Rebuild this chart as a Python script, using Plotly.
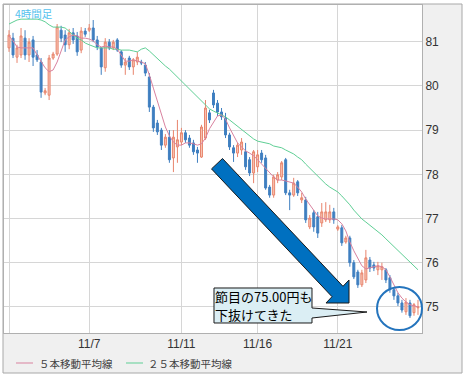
import plotly.graph_objects as go

# ---- data (4-hour candles) ----
open_ = [80.86, 81.08, 80.65, 80.70, 81.08, 80.70, 81.04, 80.70, 80.54, 79.84,
         79.79, 80.63, 80.72, 81.26, 81.15, 80.93, 81.20, 81.13, 80.81, 81.24,
         81.26, 81.31, 81.04, 80.86, 80.41, 80.99, 80.86, 81.04, 80.77, 80.47,
         80.63, 80.43, 80.54, 80.54, 80.47, 80.20, 79.52, 79.16, 79.00, 78.66,
         78.84, 78.37, 78.62, 78.73, 78.94, 78.82, 78.71, 78.55, 78.39, 78.82,
         79.39, 79.84, 79.61, 79.41, 79.27, 78.89, 78.60, 78.48, 78.55, 78.51,
         78.33, 78.03, 78.17, 78.48, 78.37, 77.71, 77.53, 77.87, 77.94, 78.33,
         77.58, 77.53, 77.83, 77.42, 77.42, 76.81, 77.13, 77.04, 76.90, 76.97,
         76.97, 77.15, 76.76, 76.79, 76.47, 76.56, 76.00, 75.79, 75.50, 75.61,
         76.06, 75.95, 75.84, 75.84, 75.84, 75.66, 75.39, 75.25, 75.09, 74.89,
         75.09, 74.87, 74.98]
high = [81.26, 81.20, 80.93, 81.31, 81.26, 81.08, 81.13, 80.81, 80.63, 79.95,
        80.70, 80.77, 81.40, 81.36, 81.26, 81.29, 81.31, 81.22, 81.33, 81.31,
        81.40, 81.49, 81.13, 80.88, 81.08, 81.06, 81.04, 81.08, 80.81, 80.63,
        80.68, 80.63, 80.77, 80.59, 80.54, 80.29, 79.57, 79.23, 79.05, 78.91,
        79.00, 79.00, 79.23, 79.05, 79.00, 78.89, 78.78, 78.62, 79.12, 79.68,
        79.46, 79.91, 79.68, 79.50, 79.39, 78.94, 78.66, 78.71, 78.82, 78.71,
        78.39, 78.55, 78.55, 78.55, 78.44, 77.76, 77.99, 78.05, 78.30, 78.37,
        77.65, 77.92, 77.87, 77.58, 77.49, 77.08, 77.19, 77.15, 77.35, 77.37,
        77.31, 77.24, 76.85, 76.85, 76.61, 76.61, 76.06, 75.84, 75.84, 76.29,
        76.13, 76.02, 76.02, 76.00, 75.88, 75.72, 75.45, 75.32, 75.16, 75.20,
        75.16, 75.09, 75.16]
low = [80.77, 80.63, 80.52, 80.63, 80.59, 80.54, 80.45, 80.54, 79.73, 79.79,
       79.68, 80.59, 80.68, 80.99, 80.77, 80.83, 80.95, 80.68, 80.74, 81.11,
       81.22, 80.99, 80.81, 80.25, 80.32, 80.81, 80.81, 80.77, 80.41, 80.25,
       80.36, 80.25, 80.47, 80.47, 80.22, 79.41, 78.96, 78.89, 78.55, 78.60,
       78.26, 78.05, 78.26, 78.66, 78.71, 78.60, 78.44, 78.26, 78.37, 78.78,
       79.16, 79.50, 79.32, 79.23, 78.82, 78.55, 78.28, 78.39, 78.44, 78.10,
       77.96, 77.80, 78.05, 78.26, 77.65, 77.47, 77.47, 77.80, 77.87, 77.53,
       77.19, 77.49, 77.51, 77.35, 76.90, 76.76, 76.70, 76.56, 76.81, 76.92,
       76.90, 76.88, 76.72, 76.38, 76.43, 75.91, 75.63, 75.43, 75.45, 75.54,
       75.79, 75.81, 75.72, 75.61, 75.54, 75.32, 75.16, 75.02, 74.87, 74.82,
       74.75, 74.80, 74.82]
close = [81.15, 80.70, 80.86, 81.13, 80.70, 80.99, 80.65, 80.59, 79.86, 79.89,
         80.63, 80.72, 81.33, 81.08, 80.93, 81.20, 81.04, 80.77, 81.24, 81.17,
         81.31, 81.04, 80.88, 80.43, 80.99, 80.86, 80.99, 80.81, 80.47, 80.54,
         80.43, 80.59, 80.65, 80.52, 80.29, 79.52, 79.05, 78.96, 78.66, 78.84,
         78.33, 78.84, 78.78, 78.94, 78.78, 78.66, 78.51, 78.48, 79.07, 79.50,
         79.23, 79.57, 79.41, 79.30, 78.89, 78.62, 78.48, 78.66, 78.73, 78.17,
         78.03, 78.51, 78.44, 78.33, 77.69, 77.53, 77.94, 77.99, 78.26, 77.58,
         77.53, 77.80, 77.58, 77.47, 76.97, 77.01, 76.81, 76.67, 77.15, 77.15,
         77.15, 76.97, 76.81, 76.45, 76.56, 76.00, 75.68, 75.50, 75.77, 76.11,
         75.88, 75.88, 75.93, 75.91, 75.61, 75.39, 75.25, 75.09, 74.93, 75.11,
         74.80, 75.05, 75.00]
ma5 = [81.13, 81.02, 80.88, 80.86, 80.86, 80.86, 80.86, 80.70, 80.56, 80.41,
       80.32, 80.36, 80.54, 80.77, 81.04, 81.11, 81.15, 81.13, 81.08, 81.08,
       81.06, 81.02, 80.93, 80.88, 80.90, 80.88, 80.88, 80.83, 80.70, 80.56,
       80.56, 80.59, 80.56, 80.54, 80.50, 80.25, 79.95, 79.66, 79.34, 79.07,
       78.87, 78.73, 78.66, 78.66, 78.71, 78.71, 78.69, 78.66, 78.69, 78.82,
       79.03, 79.18, 79.32, 79.34, 79.25, 79.05, 78.87, 78.71, 78.62, 78.53,
       78.48, 78.42, 78.33, 78.23, 78.14, 78.03, 77.94, 77.87, 77.87, 77.85,
       77.83, 77.80, 77.71, 77.60, 77.44, 77.31, 77.17, 77.06, 77.01, 76.99,
       76.99, 76.99, 76.97, 76.88, 76.72, 76.47, 76.27, 76.09, 75.93, 75.86,
       75.88, 75.91, 75.93, 75.91, 75.84, 75.68, 75.48, 75.32, 75.20, 75.11,
       75.05, 75.02, 75.00]
ma25 = [81.40, 81.45, 81.49, 81.51, 81.51, 81.51, 81.51, 81.51, 81.49, 81.45,
        81.38, 81.33, 81.33, 81.33, 81.31, 81.24, 81.17, 81.08, 81.04, 80.97,
        80.93, 80.90, 80.86, 80.86, 80.86, 80.86, 80.83, 80.83, 80.81, 80.81,
        80.81, 80.79, 80.77, 80.83, 80.86, 80.79, 80.70, 80.61, 80.54, 80.45,
        80.38, 80.29, 80.20, 80.11, 80.02, 79.93, 79.84, 79.75, 79.66, 79.57,
        79.48, 79.43, 79.39, 79.34, 79.30, 79.23, 79.16, 79.07, 79.00, 78.94,
        78.87, 78.80, 78.75, 78.73, 78.71, 78.69, 78.64, 78.62, 78.60, 78.55,
        78.51, 78.46, 78.39, 78.33, 78.23, 78.14, 78.05, 77.96, 77.85, 77.78,
        77.71, 77.65, 77.60, 77.51, 77.42, 77.31, 77.19, 77.08, 76.99, 76.92,
        76.85, 76.79, 76.72, 76.63, 76.54, 76.45, 76.36, 76.27, 76.18, 76.09,
        76.00, 75.93, 75.84]
bar_index = list(range(len(close)))
date_tick_pos = [0, 20, 43, 62, 82]
date_tick_text = ["", "11/7", "11/11", "11/16", "11/21"]
price_ticks = [75, 76, 77, 78, 79, 80, 81]
ma5_name = "５本移動平均線"
ma25_name = "２５本移動平均線"
timeframe_label = "4時間足"
note_lines = ["節目の75.00円も", "下抜けてきた"]

# ---- geometry helpers (pixel -> paper) ----
W, H = 466, 378
L, T, PW, PH = 4, 5, 418, 328
def px(x):
    return (x - L) / PW
def py(y):
    return 1 - (y - T) / PH
def path(points):
    s = "M " + " L ".join(f"{px(x):.5f},{py(y):.5f}" for x, y in points)
    return s + " Z"

fig = go.Figure()
fig.add_trace(go.Candlestick(
    x=bar_index, open=open_, high=high, low=low, close=close,
    increasing=dict(line=dict(color="#e8846c", width=1), fillcolor="#f7c6b6"),
    decreasing=dict(line=dict(color="#3f7fc0", width=1), fillcolor="#3f7fc0"),
    whiskerwidth=0, showlegend=False, hoverinfo="skip"))
fig.add_trace(go.Scatter(x=bar_index, y=ma25, mode="lines", name=ma25_name,
                         line=dict(color="#5fcf95", width=1), showlegend=False))
fig.add_trace(go.Scatter(x=bar_index, y=ma5, mode="lines", name=ma5_name,
                         line=dict(color="#d9829f", width=1), showlegend=False))

tick_font = dict(family="Liberation Sans, Arial, sans-serif", size=12, color="#333333")
fig.update_layout(
    width=W, height=H, margin=dict(l=L, r=W - L - PW, t=T, b=H - T - PH),
    paper_bgcolor="white", plot_bgcolor="white", showlegend=False,
    xaxis=dict(range=[-1.25, 103.0], tickmode="array", tickvals=date_tick_pos,
               ticktext=date_tick_text, showgrid=True, gridcolor="#d6d6d6", gridwidth=1,
               zeroline=False, showline=True, linecolor="#b0b0b0", linewidth=1,
               mirror=True, ticks="", rangeslider=dict(visible=False),
               tickfont=tick_font, fixedrange=True),
    yaxis=dict(range=[74.41, 81.83], side="right", tickmode="array",
               tickvals=price_ticks, ticktext=[str(v) for v in price_ticks],
               showgrid=True, gridcolor="#d6d6d6", gridwidth=1, zeroline=False,
               showline=True, linecolor="#b0b0b0", linewidth=1, mirror=True,
               ticks="", tickfont=tick_font, fixedrange=True),
)

shapes = []
# grey panel strips outside the plot area and outer frame
shapes.append(dict(type="rect", xref="paper", yref="paper", layer="below",
                   x0=px(422), x1=px(462), y0=py(333), y1=py(4),
                   fillcolor="#f0f0f0", line=dict(width=0)))
shapes.append(dict(type="rect", xref="paper", yref="paper", layer="below",
                   x0=px(3), x1=px(462), y0=py(373), y1=py(333),
                   fillcolor="#f0f0f0", line=dict(width=0)))
shapes.append(dict(type="rect", xref="paper", yref="paper", layer="below",
                   x0=px(3), x1=px(462), y0=py(373), y1=py(4),
                   fillcolor="rgba(0,0,0,0)", line=dict(color="#a8a8a8", width=1)))
# big down arrow
shapes.append(dict(type="path", xref="paper", yref="paper",
                   path=path([(222.5, 158.5), (343, 286.3), (349, 280), (349, 303),
                              (326, 303), (332, 296.7), (211.5, 168.9)]),
                   fillcolor="#0070c0", line=dict(color="#1a1a1a", width=1)))
# callout box
shapes.append(dict(type="path", xref="paper", yref="paper",
                   path=path([(214, 288), (312, 288), (312, 308), (367, 312),
                              (312, 318), (312, 323), (214, 323)]),
                   fillcolor="#dbeef4", line=dict(color="#1a1a1a", width=1)))
# ellipse
shapes.append(dict(type="circle", xref="paper", yref="paper",
                   x0=px(377), x1=px(422), y0=py(330), y1=py(287),
                   line=dict(color="#2474bd", width=2)))
# legend line samples
shapes.append(dict(type="line", xref="paper", yref="paper",
                   x0=px(16), x1=px(33), y0=py(363), y1=py(363),
                   line=dict(color="#d9829f", width=1)))
shapes.append(dict(type="line", xref="paper", yref="paper",
                   x0=px(126), x1=px(143), y0=py(363), y1=py(363),
                   line=dict(color="#5fcf95", width=1)))
fig.update_layout(shapes=shapes)

jp = "Noto Sans CJK JP"
def text(x, y, s, size, color, anchor="left"):
    fig.add_annotation(xref="paper", yref="paper", x=px(x), y=py(y), text=s,
                       showarrow=False, xanchor=anchor, yanchor="middle",
                       font=dict(family=jp, size=size, color=color),
                       borderpad=0)

text(14, 13, timeframe_label, 10.5, "#55c2ee")
text(38, 363, ma5_name, 10.5, "#404040")
text(147, 363, ma25_name, 10.5, "#404040")
text(214, 296, note_lines[0], 13, "#000000")
text(214, 314, note_lines[1], 13, "#000000")

fig.write_html("out.html", config={"displayModeBar": False},
               post_script="document.body.style.margin='0';document.body.style.padding='0';")
